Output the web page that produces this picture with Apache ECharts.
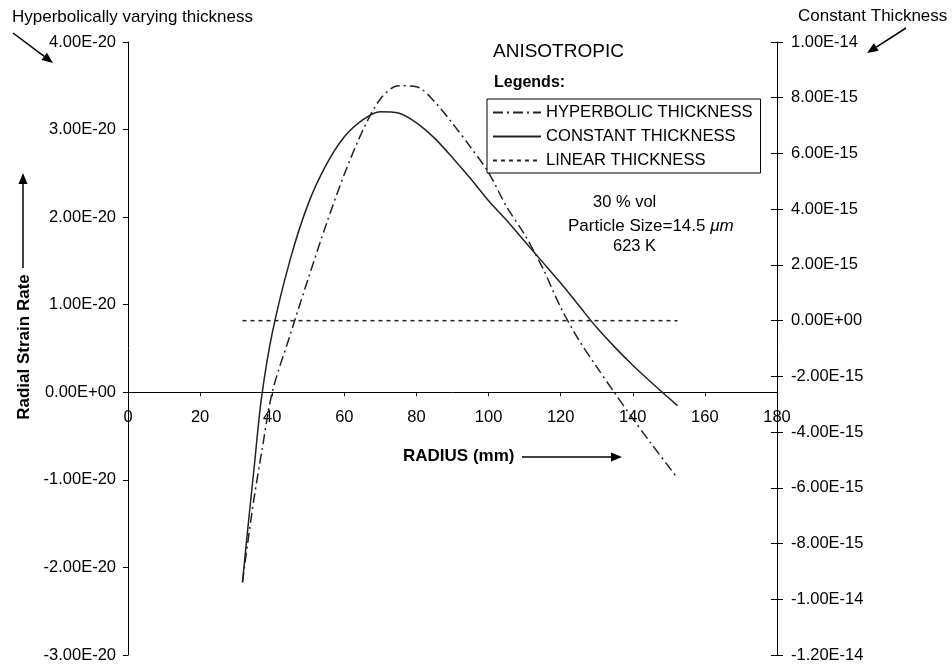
<!DOCTYPE html>
<html>
<head>
<meta charset="utf-8">
<script src="https://cdn.jsdelivr.net/npm/echarts@6.0.0/dist/echarts.min.js"></script>
<style>
    body { margin: 0; background: #fff; }
</style>
</head>
<body>

<div id="main" style="width: 952px;height:664px;"></div>

<script type="text/javascript">
    // radius in mm
    var radius = [31.75, 33, 35, 37, 40, 45, 50, 55, 60, 65, 70, 75, 80, 85, 90, 95,
                  100, 105, 110, 115, 120, 125, 130, 135, 140, 145, 152.4];
    // hyperbolic thickness, units of 1E-20 (left axis)
    var hyperbolic = [-2.17, -1.78, -1.2, -0.7, 0.0, 0.66, 1.3, 1.92, 2.49, 2.98, 3.35, 3.50,
                      3.49, 3.32, 3.07, 2.80, 2.51, 2.12, 1.80, 1.42, 0.97, 0.60, 0.29, -0.01,
                      -0.30, -0.58, -0.98];
    // constant thickness, units of 1E-15 (right axis)
    var constant = [-9.39, -7.75, -5.25, -2.8, -0.45, 2.2, 4.2, 5.6, 6.6, 7.2, 7.5, 7.45,
                    7.1, 6.55, 5.85, 5.1, 4.3, 3.6, 2.85, 2.1, 1.35, 0.55, -0.25, -0.95,
                    -1.6, -2.2, -3.05];
    // linear thickness, units of 1E-15 (right axis)
    var linearX = [31.75, 152.4];
    var linear = [0, 0];

    var seriesNames = ['HYPERBOLIC THICKNESS', 'CONSTANT THICKNESS', 'LINEAR THICKNESS'];

    var FONT = "Arial, 'Liberation Sans', sans-serif";

    var GRID_TOP = 42, GRID_H = 613;
    var LEFT_MIN = -3, LEFT_MAX = 4;

    function pairs(xs, ys) {
        return xs.map(function (x, i) { return [x, ys[i]]; });
    }

    // 4.00E-20 style labels
    function sci(scale) {
        return function (v) {
            var val = Math.abs(v) < 1e-9 ? 0 : v * scale;
            var s = val.toExponential(2).toUpperCase();
            var m = s.match(/^(-?[\d.]+)E([+-])(\d+)$/);
            var e = m[3].length < 2 ? '0' + m[3] : m[3];
            return m[1] + 'E' + m[2] + e;
        };
    }

    function arrow(x1, y1, x2, y2) {
        var dx = x2 - x1, dy = y2 - y1, len = Math.sqrt(dx * dx + dy * dy);
        var ux = dx / len, uy = dy / len, hl = 11, hw = 4.5;
        var bx = x2 - ux * hl, by = y2 - uy * hl;
        return [
            {type: 'line', shape: {x1: x1, y1: y1, x2: bx, y2: by},
             style: {stroke: '#000', lineWidth: 1.5}},
            {type: 'polygon', shape: {points: [[x2, y2], [bx - uy * hw, by + ux * hw], [bx + uy * hw, by - ux * hw]]},
             style: {fill: '#000'}}
        ];
    }

    function txt(x, y, text, size, extra) {
        var st = {text: text, x: x, y: y, fill: '#000', font: size + 'px ' + FONT,
                  textVerticalAlign: 'middle'};
        for (var k in extra) st[k] = extra[k];
        return {type: 'text', style: st};
    }

    var myChart = echarts.init(document.getElementById('main'));

    var graphics = [
        txt(12, 17, 'Hyperbolically varying thickness', 17),
        txt(798, 16, 'Constant Thickness', 17),
        txt(493, 52, 'ANISOTROPIC', 19),
        txt(494, 83, 'Legends:', 16, {font: 'bold 16px ' + FONT}),
        txt(593, 202, '30 % vol', 16.5),
        {type: 'text', style: {
            x: 568, y: 226, textVerticalAlign: 'middle',
            text: '{a|Particle Size=14.5 }{b|μm}',
            rich: {
                a: {fontSize: 17, fontFamily: FONT, fill: '#000'},
                b: {fontSize: 17, fontFamily: FONT, fontStyle: 'italic', fill: '#000'}
            }
        }},
        txt(613, 246, '623 K', 16.5),
        txt(403, 456, 'RADIUS (mm)', 17, {font: 'bold 17px ' + FONT}),
        {type: 'text', x: 24, y: 347, rotation: Math.PI / 2,
         style: {text: 'Radial Strain Rate', x: 0, y: 0, fill: '#000', font: 'bold 17px ' + FONT,
                 textAlign: 'center', textVerticalAlign: 'middle'}}
    ];
    graphics = graphics.concat(arrow(13, 33, 53, 63), arrow(906, 28, 867, 53),
                               arrow(23, 268, 23, 173), arrow(522, 457, 622, 457));

    // x axis sits on the zero of the left axis
    var xOffset = -GRID_H * (0 - LEFT_MIN) / (LEFT_MAX - LEFT_MIN);

    var option = {
        animation: false,
        backgroundColor: '#fff',
        grid: {left: 128, right: 175, top: GRID_TOP, height: GRID_H, containLabel: false, outerBoundsMode: 'none'},
        legend: {
            orient: 'vertical',
            left: 487,
            top: 99,
            itemWidth: 48,
            itemHeight: 14,
            itemGap: 7,
            padding: [5, 8, 4, 5],
            borderColor: '#000',
            borderWidth: 1,
            itemStyle: {opacity: 0},
            textStyle: {color: '#000', fontSize: 16.6, fontFamily: FONT},
            data: seriesNames
        },
        xAxis: {
            type: 'value',
            min: 0,
            max: 180,
            interval: 20,
            position: 'bottom',
            offset: xOffset,
            axisLine: {onZero: false, lineStyle: {color: '#000', width: 1}},
            axisTick: {length: 4, lineStyle: {color: '#000'}},
            axisLabel: {margin: 17, color: '#000', fontSize: 16.5, fontFamily: FONT},
            splitLine: {show: false}
        },
        yAxis: [
            {
                type: 'value',
                position: 'left',
                min: LEFT_MIN,
                max: LEFT_MAX,
                interval: 1,
                axisLine: {show: true, onZero: false, lineStyle: {color: '#000'}},
                axisTick: {show: true, length: 5, lineStyle: {color: '#000'}},
                axisLabel: {margin: 12, formatter: sci(1e-20), color: '#000', fontSize: 16.5, fontFamily: FONT},
                splitLine: {show: false}
            },
            {
                type: 'value',
                position: 'right',
                min: -12,
                max: 10,
                interval: 2,
                axisLine: {show: true, onZero: false, lineStyle: {color: '#000'}},
                axisTick: {show: true, length: 6, lineStyle: {color: '#000'}},
                axisLabel: {margin: 14, formatter: sci(1e-15), color: '#000', fontSize: 16.5, fontFamily: FONT},
                splitLine: {show: false}
            },
            {
                // inner half of the crossing ticks on the right axis
                type: 'value',
                position: 'right',
                min: -12,
                max: 10,
                interval: 2,
                axisLine: {show: false, onZero: false},
                axisTick: {show: true, inside: true, length: 6, lineStyle: {color: '#000'}},
                axisLabel: {show: false},
                splitLine: {show: false}
            }
        ],
        series: [
            {
                name: seriesNames[0],
                type: 'line',
                yAxisIndex: 0,
                smooth: 0.3,
                symbol: 'none',
                lineStyle: {color: '#222', width: 1.5, type: [10, 4, 2, 4]},
                itemStyle: {color: '#222'},
                data: pairs(radius, hyperbolic)
            },
            {
                name: seriesNames[1],
                type: 'line',
                yAxisIndex: 1,
                smooth: 0.3,
                symbol: 'none',
                lineStyle: {color: '#222', width: 1.5, type: 'solid'},
                itemStyle: {color: '#222'},
                data: pairs(radius, constant)
            },
            {
                name: seriesNames[2],
                type: 'line',
                yAxisIndex: 1,
                symbol: 'none',
                lineStyle: {color: '#222', width: 1.5, type: [4, 4]},
                itemStyle: {color: '#222'},
                data: pairs(linearX, linear)
            }
        ],
        graphic: graphics
    };

    myChart.setOption(option);
</script>
</body>
</html>
